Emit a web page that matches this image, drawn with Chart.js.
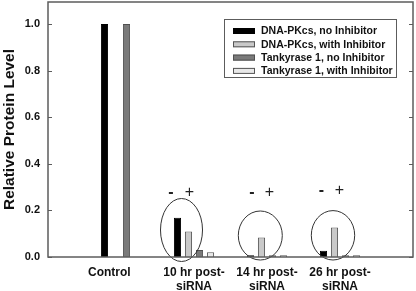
<!DOCTYPE html>
<html>
<head>
<meta charset="utf-8">
<script src="https://cdn.jsdelivr.net/npm/chart.js@4.4.1/dist/chart.umd.min.js"></script>
<style>
  html, body { margin: 0; padding: 0; background: #fff; }
  #wrap { width: 416px; height: 291px; }
</style>
</head>
<body>
<div id="wrap"><canvas id="chart"></canvas></div>
<script>
// categories (blank slots at both ends pad the axis like the original)
const categories   = ['', 'Control       ', ['10 hr post-', 'siRNA'], ['14 hr post-', 'siRNA'], ['26 hr post-', 'siRNA'], ''];
const seriesLabels = ['DNA-PKcs, no Inhibitor', 'DNA-PKcs, with Inhibitor', 'Tankyrase 1, no Inhibitor', 'Tankyrase 1, with Inhibitor'];
const dnaNoInh     = [null, 1.0, 0.169, 0.007, 0.027, null];
const dnaWithInh   = [null, null, 0.109, 0.084, 0.127, null];
const tankNoInh    = [null, 1.0, 0.030, 0.007, 0.007, null];
const tankWithInh  = [null, null, 0.020, 0.007, 0.007, null];
const yTicks       = [0, 0.2, 0.4, 0.6, 0.8, 1.0];
const signs        = ['-', '+'];

const FONT = "'Liberation Sans', Arial, sans-serif";

const fills   = ['#000000', '#c9c9c9', '#7a7a7a', '#e8e8e8'];
const borders = ['#000000', '#555555', '#505050', '#555555'];

// axes frame with inward ticks on both sides
const framePlugin = {
  id: 'frame',
  afterDraw(chart) {
    const { ctx, chartArea: a, scales: { y } } = chart;
    ctx.save();
    ctx.strokeStyle = '#5c5c5c';
    ctx.lineWidth = 1.5;
    ctx.strokeRect(a.left, a.top, a.right - a.left, a.bottom - a.top);
    ctx.lineWidth = 1;
    yTicks.forEach(v => {
      const py = Math.round(y.getPixelForValue(v)) + 0.5;
      ctx.beginPath();
      ctx.moveTo(a.left, py);  ctx.lineTo(a.left + 4, py);
      ctx.moveTo(a.right, py); ctx.lineTo(a.right - 4, py);
      ctx.stroke();
    });
    ctx.restore();
  }
};

// hand-drawn style ellipses and -/+ marks over the post-siRNA groups
const markPlugin = {
  id: 'marks',
  afterDatasetsDraw(chart) {
    const { ctx, scales: { x } } = chart;
    const groups = [
      { idx: 2, dx: -12.5, cy: 230,   rx: 21,   ry: 31.5, minus: -23,   plus: -4.5, sy: 193 },
      { idx: 3, dx: -6.7,  cy: 235.5, rx: 22,   ry: 24.5, minus: -15,   plus: 2.5,  sy: 192.5 },
      { idx: 4, dx: -7,    cy: 235.3, rx: 21.7, ry: 24.7, minus: -18.5, plus: -0.5, sy: 191 },
    ];
    ctx.save();
    ctx.strokeStyle = '#333';
    ctx.lineWidth = 1;
    ctx.fillStyle = '#222';
    ctx.textAlign = 'center';
    ctx.textBaseline = 'middle';
    groups.forEach(g => {
      const cx = x.getPixelForValue(g.idx);
      ctx.beginPath();
      ctx.ellipse(cx + g.dx, g.cy, g.rx, g.ry, 0, 0, Math.PI * 2);
      ctx.stroke();
      ctx.font = 'bold 16px ' + FONT;
      ctx.fillText(signs[0], cx + g.minus, g.sy);
      ctx.font = '16px ' + FONT;
      ctx.fillText(signs[1], cx + g.plus, g.sy);
    });
    ctx.restore();
  }
};

// boxed legend inside the plot
const legendPlugin = {
  id: 'boxLegend',
  afterDraw(chart) {
    const { ctx, chartArea: a } = chart;
    const bx = a.right - 189, by = a.top + 17, bw = 172, bh = 58;
    ctx.save();
    ctx.fillStyle = '#fff';
    ctx.fillRect(bx, by, bw, bh);
    ctx.strokeStyle = '#5c5c5c';
    ctx.lineWidth = 1;
    ctx.strokeRect(bx + 0.5, by + 0.5, bw, bh);
    ctx.font = 'bold 10.5px ' + FONT;
    ctx.textBaseline = 'middle';
    chart.data.datasets.forEach((ds, i) => {
      const ry = by + 12 + i * 13.3;
      ctx.fillStyle = ds.backgroundColor;
      ctx.fillRect(bx + 9, ry - 3, 22, 6);
      ctx.strokeStyle = ds.borderColor;
      ctx.strokeRect(bx + 9.5, ry - 2.5, 21, 5);
      ctx.fillStyle = '#111';
      ctx.fillText(ds.label, bx + 37, ry + 0.5);
    });
    ctx.restore();
  }
};

const seriesData = [dnaNoInh, dnaWithInh, tankNoInh, tankWithInh];

new Chart(document.getElementById('chart'), {
  type: 'bar',
  data: {
    labels: categories,
    datasets: seriesData.map((d, i) => ({
      label: seriesLabels[i],
      data: d,
      backgroundColor: fills[i],
      borderColor: borders[i],
      borderWidth: 1,
      categoryPercentage: 0.603,
      barPercentage: 0.65,
    })),
  },
  options: {
    responsive: true,
    maintainAspectRatio: false,
    animation: false,
    layout: { padding: { top: 2, right: 3, left: 0, bottom: 0 } },
    plugins: { legend: { display: false }, tooltip: { enabled: false } },
    scales: {
      x: {
        offset: false,
        grid: { display: false, drawTicks: false },
        border: { display: false },
        ticks: {
          autoSkip: false, maxRotation: 0, minRotation: 0, padding: 8,
          color: '#111', font: { family: FONT, size: 12, weight: 'bold', lineHeight: 1.2 },
        },
        afterFit: s => { s.height = 34; s.paddingLeft = 0; s.paddingRight = 0; },
      },
      y: {
        min: 0, max: 1.095,
        grid: { display: false, drawTicks: false },
        border: { display: false },
        ticks: {
          stepSize: 0.2, includeBounds: false, padding: 8,
          color: '#111', font: { family: FONT, size: 11, weight: 'bold' },
          callback: v => v.toFixed(1),
        },
        title: {
          display: true, text: 'Relative Protein Level', color: '#111',
          padding: { top: 0, bottom: 0 },
          font: { family: FONT, size: 15.5, weight: 'bold' },
        },
        afterFit: s => { s.width = 48; s.paddingTop = 0; s.paddingBottom = 0; },
      },
    },
  },
  plugins: [framePlugin, markPlugin, legendPlugin],
});
</script>
</body>
</html>
